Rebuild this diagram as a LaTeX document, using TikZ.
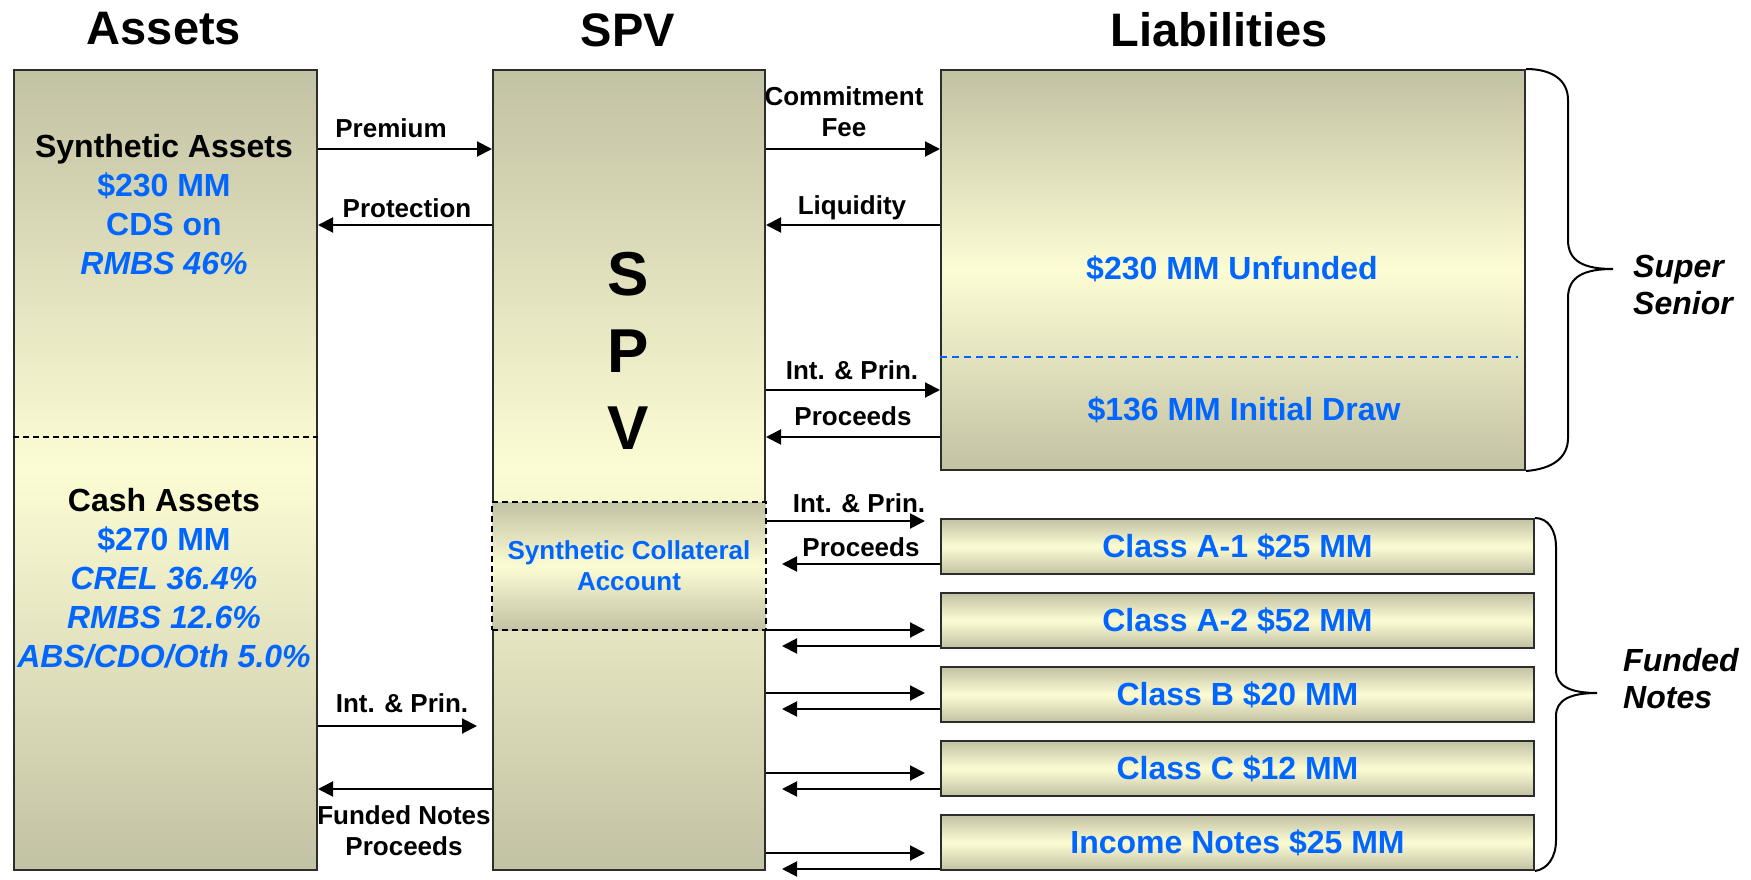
\documentclass[tikz,border=0pt]{standalone}
\usepackage{fontspec}
\setmainfont{Liberation Sans}
\usetikzlibrary{arrows.meta}

\definecolor{khaki}{RGB}{194,194,164}
\definecolor{cream}{RGB}{252,252,212}
\definecolor{trancheblue}{RGB}{0,102,255}
\definecolor{rim}{RGB}{45,45,45}

\tikzset{
  panel/.style={draw=rim, line width=2pt, anchor=north west, inner sep=0pt,
    top color=khaki, bottom color=khaki, middle color=cream},
  flow/.style={line width=2pt, -{Triangle[length=15pt,width=15pt]}},
  ttl/.style={font=\fontsize{47}{50}\selectfont\bfseries},
  hdr/.style={font=\fontsize{32}{39}\selectfont\bfseries, align=center},
  amt/.style={font=\fontsize{32}{38}\selectfont\bfseries, text=trancheblue},
  lbl/.style={font=\fontsize{26}{31}\selectfont\bfseries, align=center, inner sep=0pt},
  side/.style={font=\fontsize{32}{37}\selectfont\bfseries\itshape, align=left, anchor=west, inner sep=0pt},
}

\begin{document}
\begin{tikzpicture}[x=1pt, y=-1pt]
        \fill[white] (0,0) rectangle (1751,880);
        \useasboundingbox (0,0) rectangle (1751,880);

        % Column headings
        \node[ttl] (ttlassets) at (164,29) {Assets};
        \node[ttl] (ttlspv) at (628,30) {SPV};
        \node[ttl] (ttlliab) at (1219,30) {Liabilities};

        % Assets column, split into synthetic and cash parts
        \node[panel, minimum width=303pt, minimum height=800pt] (assets) at (13,69) {};
        \draw[line width=2pt, dash pattern=on 6pt off 4pt] (assets.west |- 0,437) -- (assets.east |- 0,437);
        \node[hdr] (synth) at (164,205) {Synthetic Assets\\
          \textcolor{trancheblue}{\$230 MM}\\
          \textcolor{trancheblue}{CDS on}\\
          \textcolor{trancheblue}{\itshape RMBS 46\%}};
        \node[hdr] (cash) at (164,578) {Cash Assets\\
          \textcolor{trancheblue}{\$270 MM}\\
          \textcolor{trancheblue}{\itshape CREL 36.4\%}\\
          \textcolor{trancheblue}{\itshape RMBS 12.6\%}\\
          \textcolor{trancheblue}{\itshape ABS/CDO/Oth 5.0\%}};

        % The vehicle in the middle
        \node[panel, minimum width=272pt, minimum height=800pt] (spv) at (492,69) {};
        \node[font=\fontsize{62}{77}\selectfont\bfseries, align=center] (spvmark) at (628,351) {S\\P\\V};
        \node[panel, draw=black, dash pattern=on 6pt off 4pt, minimum width=274pt, minimum height=128pt] (sca) at (491,501) {};
        \node[lbl, text=trancheblue] (scatext) at (sca.center) {Synthetic Collateral\\Account};

        % Super senior facility
        \node[panel, minimum width=584pt, minimum height=400pt] (liab) at (940,69) {};
        \draw[trancheblue, line width=1.5pt, dash pattern=on 7pt off 5pt] (liab.west |- 0,357) -- (1518,357);
        \node[amt] (unfunded) at (1232,269) {\$230 MM Unfunded};
        \node[amt] (draw) at (1244,410) {\$136 MM Initial Draw};

        % Funded notes
        \node[panel, amt, minimum width=593pt, minimum height=55pt] (clsa1) at (940,518) {Class A-1 \$25 MM};
        \node[panel, amt, minimum width=593pt, minimum height=55pt] (clsa2) at (940,592) {Class A-2 \$52 MM};
        \node[panel, amt, minimum width=593pt, minimum height=55pt] (clsb) at (940,666) {Class B \$20 MM};
        \node[panel, amt, minimum width=593pt, minimum height=55pt] (clsc) at (940,740) {Class C \$12 MM};
        \node[panel, amt, minimum width=593pt, minimum height=55pt] (income) at (940,814) {Income Notes \$25 MM};

        % Flows between assets and SPV
        \node[lbl] (premium) at (391,128) {Premium};
        \draw[flow] (assets.east |- 0,149) -- (spv.west |- 0,149);
        \node[lbl] (protection) at (407,208) {Protection};
        \draw[flow] (spv.west |- 0,225) -- (assets.east |- 0,225);
        \node[lbl] (intprin) at (402,703) {Int. \& Prin.};
        \draw[flow] (assets.east |- 0,726) -- ++(159,0);
        \node[lbl] (fundedproc) at (404,831) {Funded Notes\\Proceeds};
        \draw[flow] (spv.west |- 0,789) -- (assets.east |- 0,789);

        % Flows between SPV and super senior
        \node[lbl] (fee) at (844,112) {Commitment\\Fee};
        \draw[flow] (spv.east |- 0,149) -- (liab.west |- 0,149);
        \node[lbl] (liquidity) at (852,208) {Liquidity};
        \draw[flow] (liab.west |- 0,225) -- (spv.east |- 0,225);
        \node[lbl] (ssintprin) at (852,370) {Int. \& Prin.};
        \draw[flow] (spv.east |- 0,390) -- (liab.west |- 0,390);
        \node[lbl] (ssproc) at (853,416) {Proceeds};
        \draw[flow] (liab.west |- 0,437) -- (spv.east |- 0,437);

        % Flows between SPV and the notes
        \node[lbl] (nintprin) at (859,503) {Int. \& Prin.};
        \node[lbl] (nproc) at (861,547) {Proceeds};
        \draw[flow] (spv.east |- 0,521) -- ++(159,0);
        \draw[flow] (clsa1.west |- 0,564) -- ++(-158,0);
        \draw[flow] (spv.east |- 0,630) -- ++(159,0);
        \draw[flow] (clsa2.west |- 0,646) -- ++(-158,0);
        \draw[flow] (spv.east |- 0,693) -- ++(159,0);
        \draw[flow] (clsb.west |- 0,709) -- ++(-158,0);
        \draw[flow] (spv.east |- 0,773) -- ++(159,0);
        \draw[flow] (clsc.west |- 0,789) -- ++(-158,0);
        \draw[flow] (spv.east |- 0,853) -- ++(159,0);
        \draw[flow] (income.west |- 0,869) -- ++(-158,0);

        % Braces grouping the tranches
        \draw[line width=2pt] (liab.north east) .. controls (1552,69) and (1568,80) .. (1568,100)
          -- (1568,240) .. controls (1568,262) and (1585,269) .. (1613,269)
          .. controls (1585,269) and (1568,276) .. (1568,298)
          -- (1568,438) .. controls (1568,458) and (1552,469) .. (liab.south east);
        \node[side] (supersenior) at (1633,285) {Super\\Senior};

        \draw[line width=2pt] (clsa1.north east) .. controls (1548,518) and (1556,530) .. (1556,547)
          -- (1556,670) .. controls (1556,686) and (1570,693) .. (1597,693)
          .. controls (1570,693) and (1556,700) .. (1556,716)
          -- (1556,840) .. controls (1556,857) and (1548,869) .. (income.south east);
        \node[side] (fundednotes) at (1623,679) {Funded\\Notes};
\end{tikzpicture}
\end{document}
